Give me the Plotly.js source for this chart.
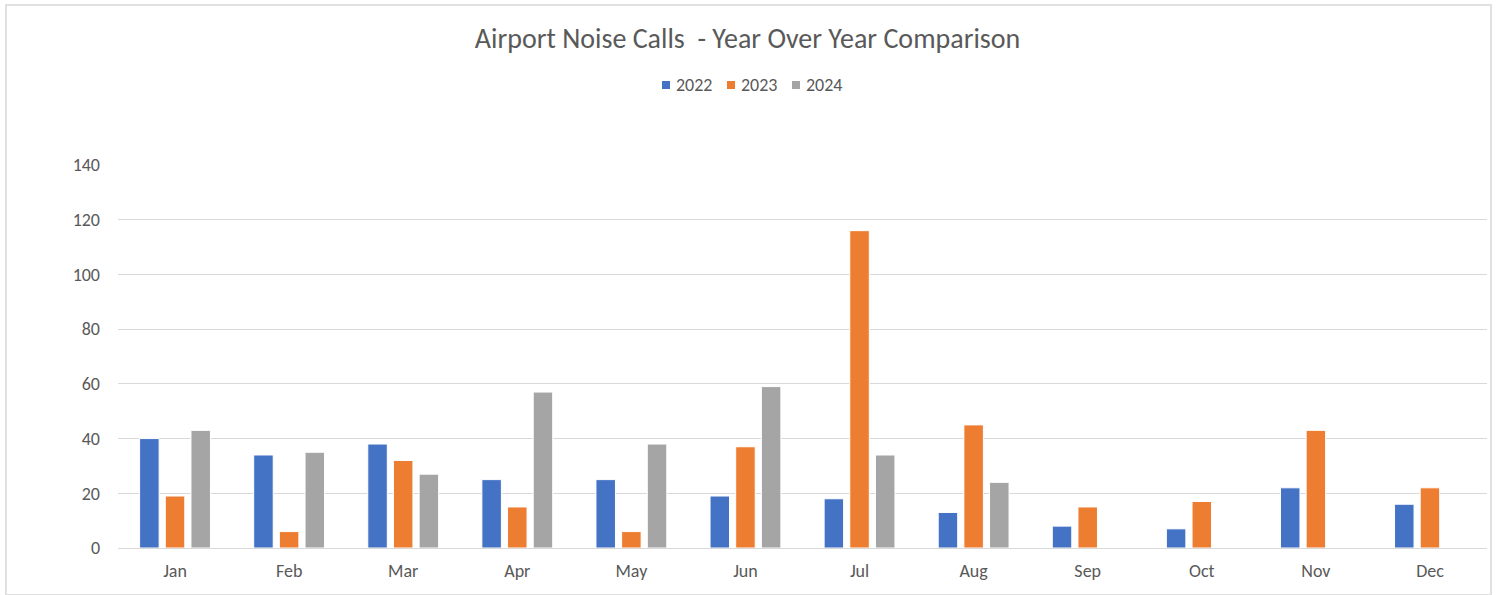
<!DOCTYPE html>
<html>
<head>
<meta charset="utf-8">
<script src="https://cdn.plot.ly/plotly-3.0.1.min.js"></script>
<style>
  html, body { margin: 0; padding: 0; background: #ffffff; }
  #chart { position: absolute; left: 0; top: 0; width: 1499px; height: 595px; }
  #frame { position: absolute; left: 5px; top: 4px; width: 1487px; height: 592px; border: 2px solid #e0e0e0; box-sizing: border-box; pointer-events: none; }
</style>
</head>
<body>
<div id="chart"></div>
<div id="frame"></div>
<script>
const months = ["Jan","Feb","Mar","Apr","May","Jun","Jul","Aug","Sep","Oct","Nov","Dec"];
const calls2022 = [40, 34, 38, 25, 25, 19, 18, 13, 8, 7, 22, 16];
const calls2023 = [19, 6, 32, 15, 6, 37, 116, 45, 15, 17, 43, 22];
const calls2024 = [43, 35, 27, 57, 38, 59, 34, 24, null, null, null, null];
const seriesNames = ["2022", "2023", "2024"];
const seriesColors = ["#4472C4", "#ED7D31", "#A5A5A5"];
const yTicks = [0, 20, 40, 60, 80, 100, 120, 140];

const FONT = "Carlito, Calibri, 'Liberation Sans Narrow', 'Open Sans', sans-serif";
const values = [calls2022, calls2023, calls2024];

const W = 1499, H = 595;
const M = { l: 118, r: 12, t: 165, b: 47 };
const plotW = W - M.l - M.r, plotH = H - M.t - M.b;
// pixel -> paper helpers for the custom legend placement
const px2x = p => (p - M.l) / plotW;
const px2y = p => (H - M.b - p) / plotH;

const traces = values.map((v, i) => ({
  type: "bar",
  name: seriesNames[i],
  x: months,
  y: v,
  marker: { color: seriesColors[i], line: { color: "#ffffff", width: 1 } },
  hoverinfo: "x+y+name",
  showlegend: false
}));

// Custom compact legend (Excel-style spacing)
const legendStartPx = 662, legendStepPx = 65, legendYPx = 85, sq = 8;
const shapes = [], annotations = [];
seriesNames.forEach((name, i) => {
  const x0 = legendStartPx + i * legendStepPx;
  shapes.push({
    type: "rect", xref: "paper", yref: "paper",
    x0: px2x(x0), x1: px2x(x0 + sq),
    y0: px2y(legendYPx + sq / 2), y1: px2y(legendYPx - sq / 2),
    fillcolor: seriesColors[i], line: { width: 0 }
  });
  annotations.push({
    xref: "paper", yref: "paper",
    x: px2x(x0 + sq + 4), y: px2y(legendYPx),
    xanchor: "left", yanchor: "middle",
    text: name, showarrow: false,
    font: { family: FONT, size: 18, color: "#595959" }
  });
});

const layout = {
  width: W,
  height: H,
  margin: M,
  paper_bgcolor: "#ffffff",
  plot_bgcolor: "#ffffff",
  barmode: "group",
  bargap: 0.325,
  bargroupgap: 0.24,
  title: {
    text: "Airport Noise Calls  - Year Over Year Comparison",
    font: { family: FONT, size: 28, color: "#595959" },
    x: 0.4987, xref: "container", xanchor: "center",
    y: 1 - 38 / H, yref: "container", yanchor: "middle"
  },
  showlegend: false,
  shapes: shapes,
  annotations: annotations,
  xaxis: {
    type: "category",
    tickvals: months,
    ticktext: months,
    showgrid: false,
    showline: true,
    linecolor: "#d9d9d9",
    linewidth: 1,
    ticks: "",
    ticklen: 0,
    ticklabelstandoff: 6,
    tickfont: { family: FONT, size: 18, color: "#595959" },
    automargin: false
  },
  yaxis: {
    range: [0, 140],
    tickvals: yTicks,
    ticktext: yTicks.map(String),
    showgrid: true,
    gridcolor: "#d9d9d9",
    gridwidth: 1,
    zeroline: false,
    showline: false,
    ticks: "",
    ticklabelstandoff: 17,
    tickfont: { family: FONT, size: 18, color: "#595959" },
    automargin: false
  }
};

Plotly.newPlot("chart", traces, layout, { displayModeBar: false, responsive: false });
</script>
</body>
</html>
